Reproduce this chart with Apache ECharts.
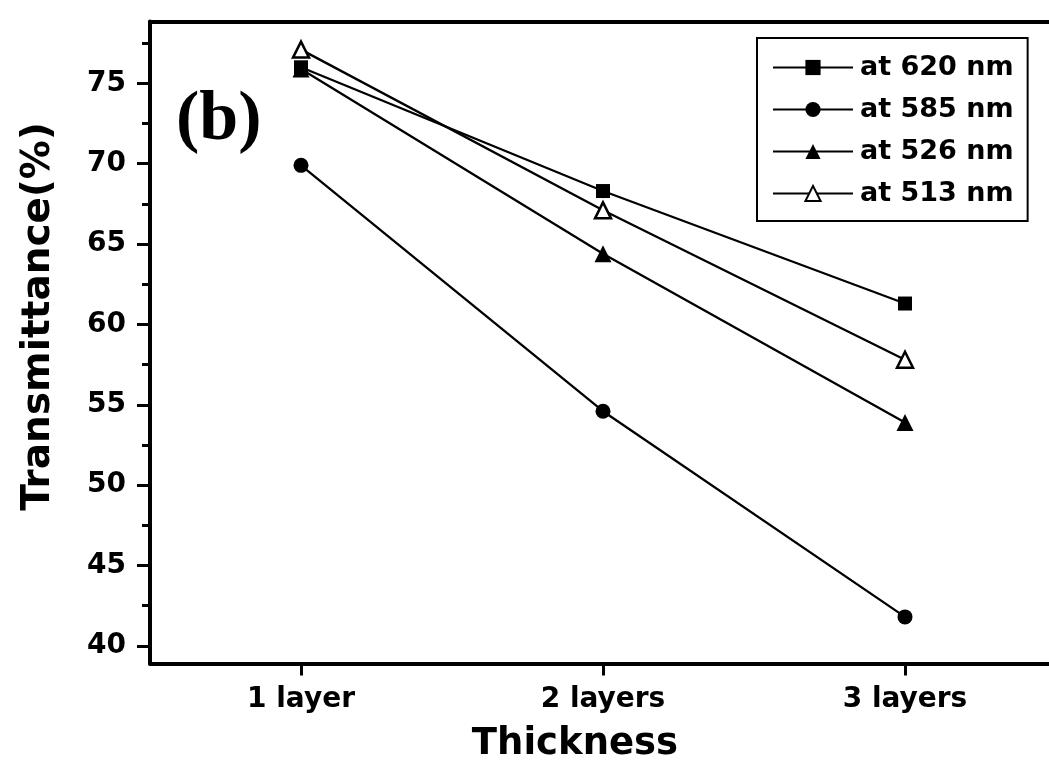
<!DOCTYPE html>
<html>
<head>
<meta charset="utf-8">
<script src="https://cdn.jsdelivr.net/npm/echarts@6/dist/echarts.min.js"></script>
<style>
html,body{margin:0;padding:0;background:#fff;}
#chart{width:1049px;height:783px;}
</style>
</head>
<body>
<div id="chart"></div>
<script>
var categories = ['1 layer', '2 layers', '3 layers'];
var at620 = [76.0, 68.3, 61.3];
var at585 = [69.9, 54.6, 41.8];
var at526 = [75.9, 64.4, 53.9];
var at513 = [77.1, 67.1, 57.8];
var yTicks = [40, 45, 50, 55, 60, 65, 70, 75];
var yMinorTicks = [42.5, 47.5, 52.5, 57.5, 62.5, 67.5, 72.5, 77.5];
var seriesNames = ['at 620 nm', 'at 585 nm', 'at 526 nm', 'at 513 nm'];

var FONT = 'DejaVu Sans';
var chart = echarts.init(document.getElementById('chart'), null, {renderer: 'canvas'});

function lineSeries(name, data, symbol, size, fill, z) {
  return {
    name: name,
    type: 'line',
    data: data,
    symbol: symbol,
    symbolSize: size,
    z: z,
    lineStyle: {color: '#000', width: 2.3},
    itemStyle: {color: fill, borderColor: '#000', borderWidth: fill === '#fff' ? 2.5 : 0},
    emphasis: {disabled: true},
    animation: false
  };
}

var option = {
  backgroundColor: '#fff',
  animation: false,
  title: {
    text: '(b)',
    left: 176,
    top: 86,
    padding: 0,
    textStyle: {fontFamily: 'Liberation Serif', fontWeight: 'bold', fontSize: 70, color: '#000'}
  },
  legend: {
    left: 757,
    top: 38,
    orient: 'vertical',
    padding: [15, 14, 13, 15],
    itemWidth: 80,
    itemHeight: 19,
    itemGap: 13,
    borderColor: '#000',
    borderWidth: 2,
    data: seriesNames,
    textStyle: {fontFamily: FONT, fontWeight: 'bold', fontSize: 27, color: '#000', lineHeight: 29, padding: [0, 0, 0, 2]}
  },
  grid: {
    left: 150,
    top: 21.5,
    right: -7,
    bottom: 119.5,
    containLabel: false,
    outerBoundsMode: 'none'
  },
  xAxis: [
    {
      type: 'category',
      data: categories,
      position: 'bottom',
      boundaryGap: true,
      axisLine: {show: true, lineStyle: {color: '#000', width: 4}},
      axisTick: {show: true, alignWithLabel: true, length: 12, lineStyle: {color: '#000', width: 3}},
      axisLabel: {margin: 22, fontFamily: FONT, fontWeight: 'bold', fontSize: 28, color: '#000'},
      splitLine: {show: false},
      name: 'Thickness',
      nameLocation: 'middle',
      nameGap: 62,
      nameTextStyle: {fontFamily: FONT, fontWeight: 'bold', fontSize: 37, color: '#000', padding: [0, 56, 0, 0]}
    },
    {
      type: 'category',
      data: categories,
      position: 'top',
      axisLine: {show: true, lineStyle: {color: '#000', width: 4}},
      axisTick: {show: false},
      axisLabel: {show: false},
      splitLine: {show: false}
    }
  ],
  yAxis: [
    {
      type: 'value',
      min: 38.9,
      max: 78.85,
      position: 'left',
      axisLine: {show: true, lineStyle: {color: '#000', width: 4}},
      axisTick: {show: true, customValues: yTicks, length: 13, lineStyle: {color: '#000', width: 3}},
      axisLabel: {customValues: yTicks, margin: 24, fontFamily: FONT, fontWeight: 'bold', fontSize: 28, color: '#000'},
      splitLine: {show: false},
      name: 'Transmittance(%)',
      nameLocation: 'middle',
      nameGap: 92,
      nameRotate: 90,
      nameTextStyle: {fontFamily: FONT, fontWeight: 'bold', fontSize: 39, color: '#000', padding: [0, 0, 0, 52]}
    },
    {
      type: 'value',
      min: 38.9,
      max: 78.85,
      position: 'left',
      offset: 0,
      axisLine: {show: false},
      axisTick: {show: true, customValues: yMinorTicks, length: 8, lineStyle: {color: '#000', width: 3}},
      axisLabel: {show: false},
      splitLine: {show: false}
    }
  ],
  series: [
    lineSeries(seriesNames[0], at620, 'rect', 14, '#000', 4),
    lineSeries(seriesNames[1], at585, 'circle', 15, '#000', 3),
    lineSeries(seriesNames[2], at526, 'triangle', 17, '#000', 2),
    lineSeries(seriesNames[3], at513, 'triangle', 16, '#fff', 3)
  ]
};
chart.setOption(option);
</script>
</body>
</html>
